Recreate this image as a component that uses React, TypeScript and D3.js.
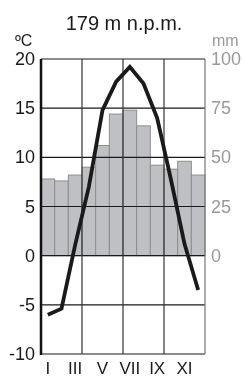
import React from 'react';
import * as d3 from 'd3';

// climate data
const months = ['I', 'II', 'III', 'IV', 'V', 'VI', 'VII', 'VIII', 'IX', 'X', 'XI', 'XII'];
const temperature = [-6.0, -5.4, 1.1, 7.0, 14.8, 17.7, 19.2, 17.5, 14.0, 7.8, 1.2, -3.5];
const precipitation = [39, 38, 41, 45, 56, 72, 74, 66, 46, 44, 48, 41];
const tempTicks = [-10, -5, 0, 5, 10, 15, 20];
const precipTicks = [0, 25, 50, 75, 100];
const monthLabels = ['I', 'III', 'V', 'VII', 'IX', 'XI'];

const width = 244, height = 378;
const plot = { left: 41, right: 205, top: 59, bottom: 354 };
const font = '"Liberation Sans", Arial, sans-serif';

const App = () => {
  const x = d3.scaleBand().domain(months).range([plot.left, plot.right]).padding(0);
  const yT = d3.scaleLinear().domain([-10, 20]).range([plot.bottom, plot.top]);
  // precipitation shares the pixel range of 0..20 degrees
  const yP = d3.scaleLinear().domain([0, 100]).range([yT(0), yT(20)]);

  const line = d3.line<number>()
    .x((_, i) => x(months[i])! + x.bandwidth() / 2)
    .y(d => yT(d));

  // vertical grid every 3 months
  const vLines = months.filter((_, i) => i % 3 === 0 && i > 0).map(m => x(m)!);

  return (
    <div style={{ position: 'fixed', left: 0, top: 0 }}>
      <svg width={width} height={height} style={{ display: 'block' }} fontFamily={font}>
        <text x={124} y={30} textAnchor="middle" fontSize={20} fill="#1a1a1a">179 m n.p.m.</text>
        <text x={15} y={46} fontSize={16} fill="#1a1a1a">ºC</text>
        <text x={212} y={46} fontSize={16} fill="#999">mm</text>

        {/* precipitation bars */}
        {precipitation.map((p, i) => (
          <rect key={months[i]} x={x(months[i])} y={yP(p)} width={x.bandwidth()} height={yP(0) - yP(p)}
            fill="#bfc0c4" stroke="#8e8e8e" strokeWidth={1} />
        ))}

        {/* grid */}
        {tempTicks.map(t => (
          <line key={t} x1={plot.left} x2={plot.right} y1={yT(t)} y2={yT(t)} stroke="#1a1a1a" strokeWidth={1.2} />
        ))}
        {vLines.map(v => (
          <line key={v} x1={v} x2={v} y1={plot.top} y2={plot.bottom} stroke="#333" strokeWidth={1.2} />
        ))}
        <line x1={plot.right} x2={plot.right} y1={plot.top} y2={plot.bottom} stroke="#777" strokeWidth={1.2} />
        <line x1={plot.left} x2={plot.left} y1={plot.top} y2={plot.bottom + 1} stroke="#111" strokeWidth={2.5} />

        {/* temperature line */}
        <path d={line(temperature) ?? ''} fill="none" stroke="#1a1a1a" strokeWidth={3.8} strokeLinejoin="miter" />

        {/* left ticks */}
        {tempTicks.map(t => (
          <text key={t} x={35} y={yT(t) + 6} textAnchor="end" fontSize={18} fill="#1a1a1a">{t}</text>
        ))}
        {/* right ticks */}
        {precipTicks.map(p => (
          <text key={p} x={211} y={yP(p) + 6} fontSize={18} fill="#999">{p}</text>
        ))}
        {/* month labels */}
        {monthLabels.map(m => (
          <text key={m} x={x(m)! + x.bandwidth() / 2} y={374} textAnchor="middle" fontSize={17} fill="#1a1a1a">{m}</text>
        ))}
      </svg>
    </div>
  );
};

export default App;
